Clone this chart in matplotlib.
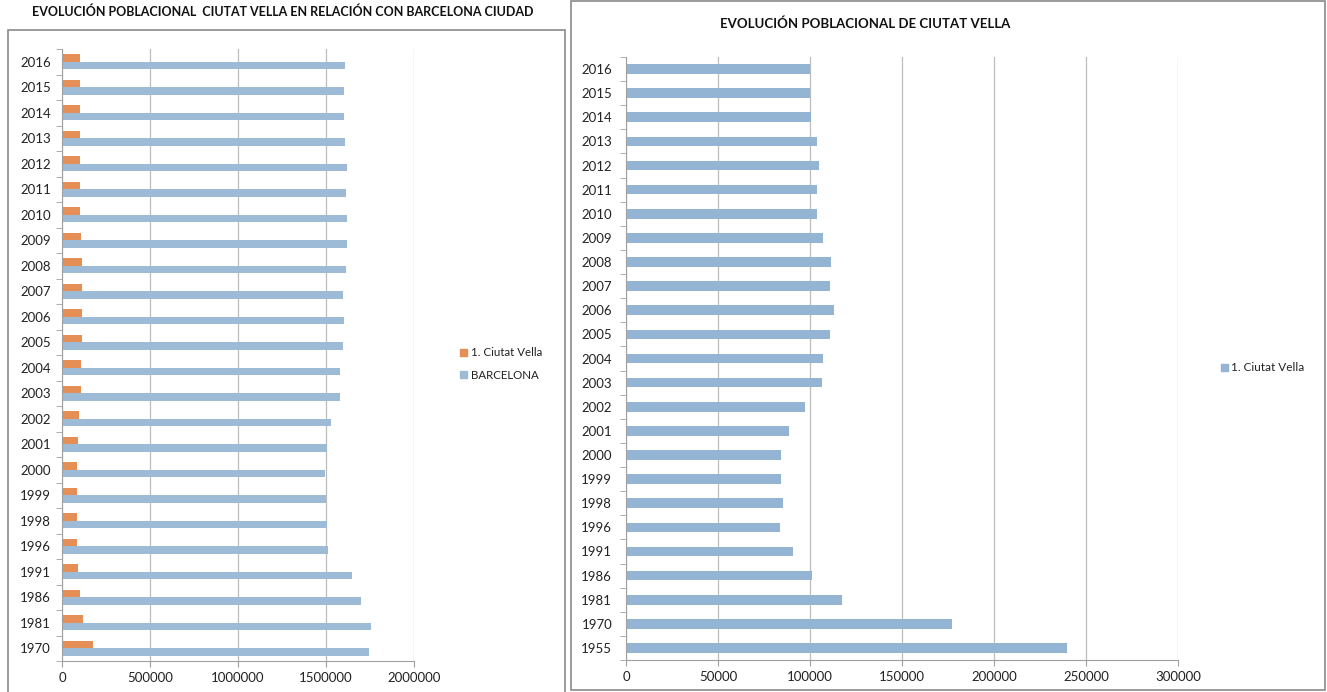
import matplotlib.pyplot as plt
from matplotlib.patches import Rectangle, Patch
import numpy as np

'''
Population of Ciutat Vella compared with Barcelona, two Excel-style bar charts.
'''

plt.rcParams['font.family'] = ['Lato', 'DejaVu Sans']

# years shown in the right chart (left chart skips 1955)
years_cv = ['1955', '1970', '1981', '1986', '1991', '1996', '1998', '1999', '2000',
            '2001', '2002', '2003', '2004', '2005', '2006', '2007', '2008', '2009',
            '2010', '2011', '2012', '2013', '2014', '2015', '2016']
ciutat_vella = [239500, 177200, 117500, 101200, 90600, 83600, 85300, 84300, 84200,
                88400, 97100, 106500, 107300, 111100, 112900, 111100, 111600, 107300,
                104000, 104000, 104800, 103700, 100500, 100000, 100000]

years_bcn = years_cv[1:]
barcelona = [1745000, 1753000, 1701000, 1645000, 1510000, 1506000, 1500000, 1496000,
             1508000, 1529000, 1581000, 1579000, 1594000, 1604000, 1594000, 1614000,
             1622000, 1618000, 1614000, 1620000, 1610000, 1600000, 1602000, 1606000]
ciutat_vella_bcn = ciutat_vella[1:]

orange = '#E58E55'
blue = '#9DBBD7'
blue2 = '#94B4D4'
grid = '#BDBDBD'
W, H = 1327, 692


def fx(px):
    return px / W


def fy(py):
    return 1 - py / H


def style_axis(ax, n, xmax, step, pad):
    ax.set_xlim(0, xmax)
    ax.set_ylim(-0.5, n - 0.5)
    ax.set_xticks(np.arange(0, xmax + 1, step))
    ax.set_xticklabels([str(int(v)) for v in np.arange(0, xmax + 1, step)])
    ax.xaxis.grid(True, color=grid, lw=0.9)
    ax.set_axisbelow(True)
    for s in ['top', 'right']:
        ax.spines[s].set_visible(False)
    for s in ['left', 'bottom']:
        ax.spines[s].set_color('#A0A0A0')
    ax.tick_params(axis='x', length=4, color='#A0A0A0', labelsize=9.5, pad=4, labelcolor='#222222')
    ax.tick_params(axis='y', which='major', length=0, labelsize=9.5, pad=pad, labelcolor='#222222')
    ax.set_yticks(np.arange(-0.5, n, 1.0), minor=True)
    ax.tick_params(axis='y', which='minor', length=4, color='#A0A0A0')


fig = plt.figure(figsize=(W / 100, H / 100), dpi=100)

# frames around each chart
fig.add_artist(Rectangle((fx(8), fy(700)), fx(565 - 8), fy(30) - fy(700),
                         transform=fig.transFigure, fill=False, ec='#8A8A8A', lw=1.2))
fig.add_artist(Rectangle((fx(571), fy(690)), fx(1325 - 571), fy(1) - fy(690),
                         transform=fig.transFigure, fill=False, ec='#8A8A8A', lw=1.2))

# left chart
ax1 = fig.add_axes([fx(62), fy(661), fx(414 - 62), fy(49) - fy(661)])
idx = np.arange(len(years_bcn))
h = 0.286
ax1.barh(idx + h / 2, ciutat_vella_bcn, height=h, color=orange, label='1. Ciutat Vella')
ax1.barh(idx - h / 2, barcelona, height=h, color=blue, label='BARCELONA')
ax1.set_yticks(idx)
ax1.set_yticklabels(years_bcn)
style_axis(ax1, len(years_bcn), 2000000, 500000, 8)
fig.text(fx(283), fy(12), 'EVOLUCIÓN POBLACIONAL  CIUTAT VELLA EN RELACIÓN CON BARCELONA CIUDAD',
         ha='center', va='center', fontsize=9, fontweight='bold', color='#111111')
fig.legend(handles=[Patch(color=orange, label='1. Ciutat Vella'), Patch(color=blue, label='BARCELONA')],
           loc='center left', bbox_to_anchor=(fx(450), fy(364)), frameon=False,
           handlelength=0.6, handleheight=0.6, handletextpad=0.3, labelspacing=1.0,
           fontsize=8.3, labelcolor='#222222')

# right chart
ax2 = fig.add_axes([fx(626), fy(660), fx(1178 - 626), fy(57) - fy(660)])
idx2 = np.arange(len(years_cv))
ax2.barh(idx2, ciutat_vella, height=0.4, color=blue2)
ax2.set_yticks(idx2)
ax2.set_yticklabels(years_cv)
style_axis(ax2, len(years_cv), 300000, 50000, 10)
fig.text(fx(865), fy(24), 'EVOLUCIÓN POBLACIONAL DE CIUTAT VELLA',
         ha='center', va='center', fontsize=9.5, fontweight='bold', color='#111111')
fig.legend(handles=[Patch(color=blue2, label='1. Ciutat Vella')],
           loc='center left', bbox_to_anchor=(fx(1210), fy(368)), frameon=False,
           handlelength=0.6, handleheight=0.6, handletextpad=0.3,
           fontsize=8.5, labelcolor='#222222')

fig.savefig('out.png', dpi=100)
